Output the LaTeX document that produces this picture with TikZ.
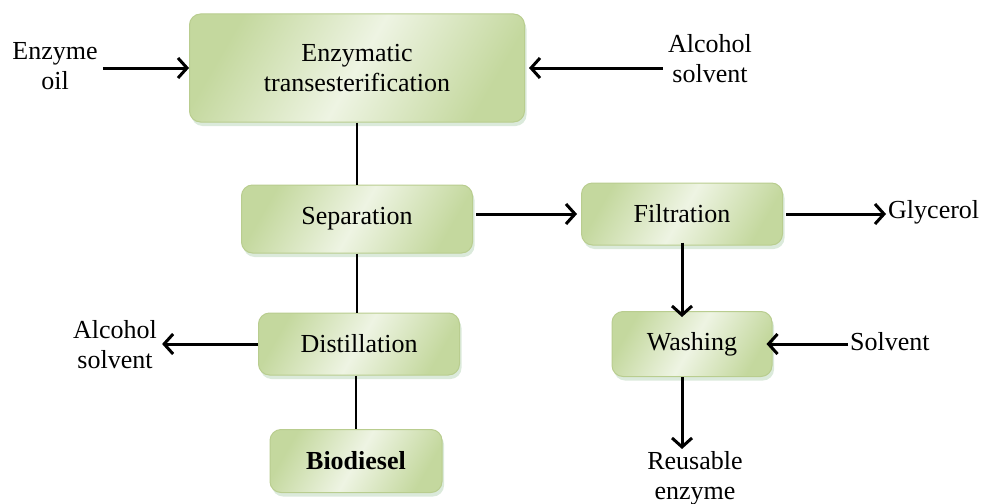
\documentclass[tikz,border=0pt]{standalone}
\usepackage{fontspec}
\setmainfont{Liberation Serif}
\usetikzlibrary{arrows.meta,shadows}
\definecolor{boxedge}{HTML}{B9CD8F}
\definecolor{boxdark}{HTML}{C4D89E}
\definecolor{boxlight}{HTML}{EEF4E3}

\begin{document}
\begin{tikzpicture}[x=1pt,y=-1pt,
  font=\fontsize{26}{30}\selectfont,
  procbox/.style={draw=boxedge, line width=1pt, rounded corners=11pt,
    left color=boxdark, right color=boxdark, middle color=boxlight, shading angle=60,
    drop shadow={shadow xshift=2pt, shadow yshift=-4pt, opacity=0.35, fill=black!60!green!40},
    align=center, inner sep=0pt},
  lbl/.style={align=center, inner sep=5pt},
  flow/.style={line width=3pt, -{Straight Barb[length=9pt,width=20pt,line width=3pt]}},
  link/.style={line width=1.5pt}]
\useasboundingbox (0,0) rectangle (987,503);
% process boxes
\node[procbox, minimum width=335pt, minimum height=108pt] (trans) at (357,68) {Enzymatic\\transesterification};
\node[procbox, minimum width=231pt, minimum height=68pt] (sep) at (357,219) {Separation};
\node[procbox, minimum width=201pt, minimum height=62pt] (filt) at (682,214) {Filtration};
\node[procbox, minimum width=160pt, minimum height=65pt] (wash) at (692,344) {Washing};
\node[procbox, minimum width=201pt, minimum height=62pt] (dist) at (359,344) {Distillation};
\node[procbox, minimum width=172pt, minimum height=63pt, font=\fontsize{26}{30}\selectfont\bfseries] (bio) at (356,461) {Biodiesel};
% inputs and outputs
\node[lbl] (enzoil) at (55,66) {Enzyme\\oil};
\node[lbl] (alcin) at (710,59) {Alcohol\\solvent};
\node[lbl, anchor=west, inner sep=2pt] (glyc) at (886,212) {Glycerol};
\node[lbl, anchor=west, inner sep=2pt] (solv) at (848,342) {Solvent};
\node[lbl, inner sep=2pt] (reuse) at (695,478) {Reusable\\enzyme};
\node[lbl] (alcout) at (115,345) {Alcohol\\solvent};
% connectors
\draw[flow] (enzoil.east |- trans.west) -- (trans.west);
\draw[flow] (alcin.west |- trans.east) -- ([xshift=4pt]trans.east);
\draw[link] (trans.south) -- (sep.north);
\draw[link] (sep.south) -- (sep.south |- dist.north);
\draw[link] (dist.south -| bio.north) -- (bio.north);
\draw[flow] ([xshift=3pt]sep.east |- filt.west) -- ([xshift=-4pt]filt.west);
\draw[flow] ([xshift=3pt]filt.east) -- (glyc.west |- filt.east);
\draw[flow] ([yshift=3pt]filt.south) -- ([yshift=-6pt]filt.south |- wash.north);
\draw[flow] (solv.west |- wash.east) -- ([xshift=-6pt]wash.east);
\draw[flow] (filt.south |- wash.south) -- (filt.south |- reuse.north);
\draw[flow] (dist.west) -- (alcout.east |- dist.west);
\end{tikzpicture}
\end{document}
